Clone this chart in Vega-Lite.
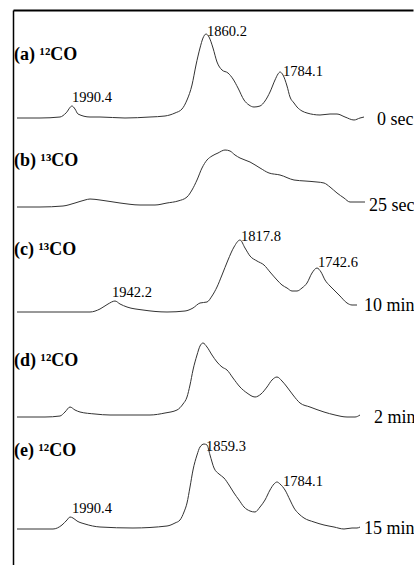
{
  "$schema": "https://vega.github.io/schema/vega-lite/v6.json",
  "width": 400,
  "height": 555,
  "autosize": {"type": "none"},
  "padding": {"left": 13, "top": 10, "right": 1, "bottom": 0},
  "background": "white",
  "config": {"view": {"stroke": null}},
  "datasets": {
    "spectra": [
      {"s":"a","w":2046,"a":447},{"s":"a","w":2023,"a":447},{"s":"a","w":2003,"a":448},{"s":"a","w":1997,"a":452},{"s":"a","w":1991,"a":459},{"s":"a","w":1988,"a":456},{"s":"a","w":1985,"a":451},{"s":"a","w":1973,"a":448},{"s":"a","w":1963,"a":448},{"s":"a","w":1938,"a":447},{"s":"a","w":1913,"a":448},{"s":"a","w":1898,"a":449},{"s":"a","w":1888,"a":452},{"s":"a","w":1881,"a":456},{"s":"a","w":1876,"a":465},{"s":"a","w":1871,"a":480},{"s":"a","w":1867,"a":500},{"s":"a","w":1863,"a":517},{"s":"a","w":1860,"a":527},{"s":"a","w":1857,"a":531},{"s":"a","w":1854,"a":528},{"s":"a","w":1850,"a":517},{"s":"a","w":1846,"a":503},{"s":"a","w":1841,"a":495},{"s":"a","w":1835,"a":492},{"s":"a","w":1830,"a":486},{"s":"a","w":1825,"a":477},{"s":"a","w":1819,"a":465},{"s":"a","w":1814,"a":460},{"s":"a","w":1809,"a":458},{"s":"a","w":1803,"a":459},{"s":"a","w":1798,"a":464},{"s":"a","w":1793,"a":473},{"s":"a","w":1788,"a":485},{"s":"a","w":1785,"a":491},{"s":"a","w":1783,"a":493},{"s":"a","w":1780,"a":490},{"s":"a","w":1776,"a":479},{"s":"a","w":1773,"a":468},{"s":"a","w":1769,"a":462},{"s":"a","w":1766,"a":458},{"s":"a","w":1761,"a":454},{"s":"a","w":1756,"a":452},{"s":"a","w":1743,"a":450},{"s":"a","w":1733,"a":451},{"s":"a","w":1726,"a":451},{"s":"a","w":1718,"a":448},{"s":"a","w":1709,"a":445},{"s":"a","w":1703,"a":447},{"s":"a","w":1699,"a":448},
      {"s":"b","w":2046,"a":358},{"s":"b","w":2023,"a":358},{"s":"b","w":2000,"a":359},{"s":"b","w":1988,"a":362},{"s":"b","w":1978,"a":365},{"s":"b","w":1973,"a":366},{"s":"b","w":1963,"a":365},{"s":"b","w":1943,"a":362},{"s":"b","w":1923,"a":360},{"s":"b","w":1908,"a":360},{"s":"b","w":1896,"a":362},{"s":"b","w":1885,"a":364},{"s":"b","w":1876,"a":368},{"s":"b","w":1871,"a":375},{"s":"b","w":1866,"a":385},{"s":"b","w":1861,"a":397},{"s":"b","w":1856,"a":405},{"s":"b","w":1851,"a":409},{"s":"b","w":1845,"a":412},{"s":"b","w":1838,"a":415},{"s":"b","w":1833,"a":414},{"s":"b","w":1828,"a":410},{"s":"b","w":1823,"a":407},{"s":"b","w":1813,"a":403},{"s":"b","w":1803,"a":397},{"s":"b","w":1794,"a":392},{"s":"b","w":1783,"a":390},{"s":"b","w":1769,"a":385},{"s":"b","w":1758,"a":384},{"s":"b","w":1746,"a":383},{"s":"b","w":1739,"a":382},{"s":"b","w":1733,"a":378},{"s":"b","w":1726,"a":372},{"s":"b","w":1719,"a":367},{"s":"b","w":1713,"a":363},{"s":"b","w":1705,"a":363},{"s":"b","w":1698,"a":363},
      {"s":"c","w":2046,"a":253},{"s":"c","w":2003,"a":253},{"s":"c","w":1973,"a":253},{"s":"c","w":1963,"a":256},{"s":"c","w":1955,"a":261},{"s":"c","w":1948,"a":264},{"s":"c","w":1943,"a":261},{"s":"c","w":1936,"a":258},{"s":"c","w":1920,"a":255},{"s":"c","w":1896,"a":253},{"s":"c","w":1878,"a":254},{"s":"c","w":1870,"a":257},{"s":"c","w":1863,"a":262},{"s":"c","w":1856,"a":263},{"s":"c","w":1851,"a":269},{"s":"c","w":1846,"a":278},{"s":"c","w":1841,"a":290},{"s":"c","w":1835,"a":305},{"s":"c","w":1829,"a":318},{"s":"c","w":1823,"a":325},{"s":"c","w":1818,"a":317},{"s":"c","w":1813,"a":309},{"s":"c","w":1806,"a":304},{"s":"c","w":1799,"a":300},{"s":"c","w":1793,"a":293},{"s":"c","w":1786,"a":285},{"s":"c","w":1781,"a":280},{"s":"c","w":1776,"a":277},{"s":"c","w":1771,"a":274},{"s":"c","w":1766,"a":274},{"s":"c","w":1761,"a":277},{"s":"c","w":1756,"a":282},{"s":"c","w":1751,"a":292},{"s":"c","w":1746,"a":297},{"s":"c","w":1742,"a":293},{"s":"c","w":1738,"a":285},{"s":"c","w":1733,"a":279},{"s":"c","w":1729,"a":275},{"s":"c","w":1723,"a":269},{"s":"c","w":1716,"a":262},{"s":"c","w":1711,"a":260},{"s":"c","w":1706,"a":260},
      {"s":"d","w":2046,"a":148},{"s":"d","w":2018,"a":148},{"s":"d","w":2003,"a":149},{"s":"d","w":1998,"a":153},{"s":"d","w":1993,"a":158},{"s":"d","w":1988,"a":155},{"s":"d","w":1983,"a":153},{"s":"d","w":1968,"a":151},{"s":"d","w":1953,"a":150},{"s":"d","w":1933,"a":150},{"s":"d","w":1913,"a":150},{"s":"d","w":1898,"a":152},{"s":"d","w":1886,"a":155},{"s":"d","w":1880,"a":161},{"s":"d","w":1876,"a":168},{"s":"d","w":1873,"a":180},{"s":"d","w":1870,"a":195},{"s":"d","w":1866,"a":210},{"s":"d","w":1863,"a":219},{"s":"d","w":1860,"a":222},{"s":"d","w":1856,"a":218},{"s":"d","w":1851,"a":210},{"s":"d","w":1846,"a":203},{"s":"d","w":1841,"a":198},{"s":"d","w":1836,"a":195},{"s":"d","w":1830,"a":187},{"s":"d","w":1823,"a":178},{"s":"d","w":1816,"a":172},{"s":"d","w":1808,"a":168},{"s":"d","w":1802,"a":171},{"s":"d","w":1796,"a":178},{"s":"d","w":1791,"a":185},{"s":"d","w":1786,"a":188},{"s":"d","w":1781,"a":184},{"s":"d","w":1776,"a":178},{"s":"d","w":1770,"a":170},{"s":"d","w":1763,"a":162},{"s":"d","w":1753,"a":158},{"s":"d","w":1739,"a":153},{"s":"d","w":1728,"a":150},{"s":"d","w":1716,"a":148},{"s":"d","w":1708,"a":148},{"s":"d","w":1703,"a":150},
      {"s":"e","w":2046,"a":36},{"s":"e","w":2010,"a":36},{"s":"e","w":2001,"a":40},{"s":"e","w":1996,"a":45},{"s":"e","w":1993,"a":48},{"s":"e","w":1990,"a":47},{"s":"e","w":1986,"a":44},{"s":"e","w":1978,"a":41},{"s":"e","w":1963,"a":38},{"s":"e","w":1930,"a":37},{"s":"e","w":1896,"a":39},{"s":"e","w":1888,"a":42},{"s":"e","w":1883,"a":45},{"s":"e","w":1879,"a":53},{"s":"e","w":1876,"a":62},{"s":"e","w":1873,"a":78},{"s":"e","w":1870,"a":95},{"s":"e","w":1866,"a":110},{"s":"e","w":1863,"a":118},{"s":"e","w":1859,"a":121},{"s":"e","w":1856,"a":120},{"s":"e","w":1853,"a":110},{"s":"e","w":1849,"a":97},{"s":"e","w":1844,"a":91},{"s":"e","w":1839,"a":87},{"s":"e","w":1834,"a":80},{"s":"e","w":1829,"a":72},{"s":"e","w":1824,"a":65},{"s":"e","w":1819,"a":58},{"s":"e","w":1813,"a":54},{"s":"e","w":1808,"a":53},{"s":"e","w":1803,"a":58},{"s":"e","w":1798,"a":65},{"s":"e","w":1793,"a":75},{"s":"e","w":1789,"a":81},{"s":"e","w":1786,"a":83},{"s":"e","w":1783,"a":81},{"s":"e","w":1778,"a":75},{"s":"e","w":1773,"a":65},{"s":"e","w":1769,"a":57},{"s":"e","w":1764,"a":51},{"s":"e","w":1759,"a":47},{"s":"e","w":1749,"a":43},{"s":"e","w":1739,"a":40},{"s":"e","w":1729,"a":38},{"s":"e","w":1719,"a":36},{"s":"e","w":1711,"a":37},{"s":"e","w":1706,"a":37},{"s":"e","w":1703,"a":38}
    ],
    "panels": [
      {"t":"(a) ¹²CO","w":2049,"a":505},
      {"t":"(b) ¹³CO","w":2049,"a":399},
      {"t":"(c) ¹³CO","w":2049,"a":310},
      {"t":"(d) ¹²CO","w":2049,"a":199},
      {"t":"(e) ¹²CO","w":2049,"a":109}
    ],
    "peaks": [
      {"t":"1990.4","w":1991,"a":463},
      {"t":"1860.2","w":1856,"a":529},
      {"t":"1784.1","w":1780,"a":489},
      {"t":"1942.2","w":1951,"a":268},
      {"t":"1817.8","w":1822,"a":324},
      {"t":"1742.6","w":1745,"a":298},
      {"t":"1859.3","w":1857,"a":114},
      {"t":"1784.1","w":1780,"a":79},
      {"t":"1990.4","w":1991,"a":52}
    ],
    "times": [
      {"t":"0 sec","w":1686,"a":440},
      {"t":"25 sec","w":1694,"a":354},
      {"t":"10 min","w":1699,"a":254},
      {"t":"2 min","w":1689,"a":142},
      {"t":"15 min","w":1699,"a":31}
    ]
  },
  "layer": [
    {
      "data": {"name": "spectra"},
      "mark": {"type": "line", "color": "#333333", "strokeWidth": 1, "interpolate": "monotone"},
      "encoding": {
        "x": {"field": "w", "type": "quantitative", "scale": {"domain": [1650, 2050], "reverse": true, "nice": false, "zero": false},
              "axis": {"orient": "top", "labels": false, "ticks": false, "grid": false, "title": null, "domainColor": "#000000", "domainWidth": 2}},
        "y": {"field": "a", "type": "quantitative", "scale": {"domain": [0, 555], "nice": false, "zero": false},
              "axis": {"orient": "left", "labels": false, "ticks": false, "grid": false, "title": null, "domainColor": "#000000", "domainWidth": 1.5}},
        "detail": {"field": "s", "type": "nominal"}
      }
    },
    {
      "data": {"name": "panels"},
      "mark": {"type": "text", "align": "left", "baseline": "alphabetic", "font": "Liberation Serif", "fontWeight": "bold", "fontSize": 18, "color": "#000000"},
      "encoding": {
        "x": {"field": "w", "type": "quantitative"},
        "y": {"field": "a", "type": "quantitative"},
        "text": {"field": "t"}
      }
    },
    {
      "data": {"name": "peaks"},
      "mark": {"type": "text", "align": "left", "baseline": "alphabetic", "font": "Liberation Serif", "fontSize": 14.5, "color": "#000000"},
      "encoding": {
        "x": {"field": "w", "type": "quantitative"},
        "y": {"field": "a", "type": "quantitative"},
        "text": {"field": "t"}
      }
    },
    {
      "data": {"name": "times"},
      "mark": {"type": "text", "align": "left", "baseline": "alphabetic", "font": "Liberation Serif", "fontSize": 18, "color": "#000000"},
      "encoding": {
        "x": {"field": "w", "type": "quantitative"},
        "y": {"field": "a", "type": "quantitative"},
        "text": {"field": "t"}
      }
    }
  ]
}
